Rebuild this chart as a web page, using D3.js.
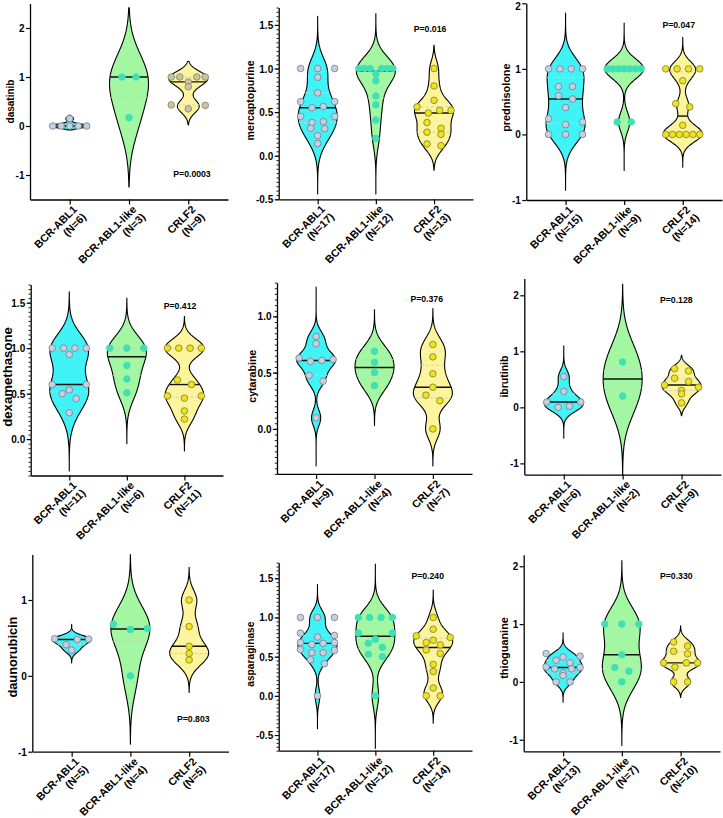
<!DOCTYPE html>
<html><head><meta charset="utf-8">
<script src="https://cdn.jsdelivr.net/npm/d3@7"></script>
<style>
body{margin:0;background:#fff;}
svg{display:block;font-family:"Liberation Sans",Arial,sans-serif;font-weight:bold;}
</style></head><body>
<svg id="chart" width="723" height="818"></svg>
<script>
// ---------------- data ----------------
const categories = ["BCR-ABL1", "BCR-ABL1-like", "CRLF2"];
const drugNames = ["dasatinib","mercaptopurine","prednisolone","dexamethasone","cytarabine","ibrutinib","daunorubicin","asparaginase","thioguanine"];
const countLabels = [
  ["(N=6)","(N=3)","(N=9)"],
  ["(N=17)","(N=12)","(N=13)"],
  ["(N=15)","(N=9)","(N=14)"],
  ["(N=11)","(N=6)","(N=11)"],
  ["N=9)","(N=4)","(N=7)"],
  ["(N=6)","(N=2)","(N=9)"],
  ["(N=5)","(N=4)","(N=5)"],
  ["(N=17)","(N=12)","(N=14)"],
  ["(N=13)","(N=7)","(N=10)"]
];
const pLabels = ["P=0.0003","P=0.016","P=0.047","P=0.412","P=0.376","P=0.128","P=0.803","P=0.240","P=0.330"];

const dasatinib = [
  [0.15,0,0,0,0,0],
  [1,1,0.17],
  [1,1,1,1,0.9,0.8,0.43,0.42,0.35]
];
const mercaptopurine = [
  [1,1,1,0.9,0.72,0.62,0.62,0.565,0.55,0.45,0.45,0.39,0.38,0.315,0.31,0.23,0.14],
  [1,1,1,1,1,1,0.94,0.86,0.685,0.585,0.41,0.20],
  [1,0.8,0.635,0.56,0.52,0.52,0.49,0.38,0.315,0.27,0.245,0.135,0.115]
];
const prednisolone = [
  [1,1,1,1,0.73,0.73,0.59,0.54,0.41,0.24,0.19,0.15,0,0,0],
  [1,1,1,1,1,1,1,0.19,0.19],
  [1,1,1,1,0.82,0.47,0.42,0.14,0,0,0,0,0,0]
];
const dexamethasone = [
  [1,1,1,1,0.93,0.6,0.6,0.54,0.5,0.445,0.29],
  [1,1,1,0.81,0.66,0.51],
  [1,1,1,1,0.65,0.6,0.475,0.475,0.45,0.31,0.22]
];
const cytarabine = [
  [0.82,0.757,0.63,0.617,0.608,0.60,0.475,0.424,0.098],
  [0.69,0.59,0.50,0.385],
  [0.75,0.64,0.49,0.37,0.30,0.25,0.0]
];
const ibrutinib = [
  [0.55,0.285,0.095,0.095,0.02,0.0],
  [0.81,0.20],
  [0.69,0.65,0.52,0.46,0.40,0.36,0.30,0.24,0.08]
];
const daunorubicin = [
  [0.49,0.485,0.48,0.41,0.34],
  [0.68,0.625,0.61,0.0],
  [1.0,0.65,0.39,0.295,0.21]
];
const asparaginase = [
  [1,1,1,0.80,0.77,0.75,0.68,0.68,0.67,0.655,0.59,0.58,0.55,0.55,0.46,0.41,0],
  [1,1,1,1,0.80,0.80,0.72,0.67,0.62,0.53,0.50,0.0],
  [1.0,0.85,0.765,0.745,0.71,0.68,0.65,0.585,0.54,0.40,0.31,0.10,0.0,0.0]
];
const thioguanine = [
  [0.49,0.445,0.43,0.375,0.33,0.26,0.25,0.225,0.225,0.155,0.11,0,0],
  [1,1,1,0.47,0.25,0.185,0.0],
  [0.69,0.62,0.53,0.485,0.33,0.33,0.33,0.255,0,0]
];
const panelValues = [dasatinib, mercaptopurine, prednisolone, dexamethasone, cytarabine, ibrutinib, daunorubicin, asparaginase, thioguanine];

// kernel bandwidth and violin extent (data units)
const bandwidths = [
  [0.04,0.5,0.13],[0.15,0.15,0.1],[0.2,0.15,0.12],
  [0.17,0.15,0.1],[0.07,0.1,0.09],[0.12,0.42,0.09],
  [0.05,0.28,0.13],[0.1,0.15,0.1],[0.09,0.3,0.09]
];
const violinExtents = [
  [[-0.08,0.22],[-1.25,2.42],[0.02,1.32]],
  [[-0.44,1.6],[-0.44,1.63],[-0.17,1.27]],
  [[-0.85,1.85],[-0.55,1.7],[-0.5,1.48]],
  [[-0.35,1.62],[-0.05,1.55],[-0.13,1.35]],
  [[-0.33,1.26],[0.03,1.06],[-0.33,1.07]],
  [[-0.55,1.1],[-1.2,2.2],[-0.15,0.93]],
  [[0.17,0.68],[-0.9,1.6],[-0.22,1.43]],
  [[-0.42,1.42],[-0.67,1.68],[-0.35,1.35]],
  [[-0.35,0.85],[-1.1,2.1],[-0.27,0.97]]
];

const yDomains = [[-1.5,2.5],[-0.5,1.7],[-1,2],[-0.4,1.7],[-0.4,1.3],[-1.2,2.3],[-1,1.6],[-0.7,1.7],[-1.2,2.2]];
const yTickValues = [
  [-1,0,1,2],[-0.5,0,0.5,1,1.5],[-1,0,1,2],
  [0,0.5,1,1.5],[0,0.5,1],[-1,0,1,2],
  [-1,0,1],[-0.5,0,0.5,1,1.5],[-1,0,1,2]
];
const yTickLabels = [
  ["-1","0","1","2"],["-0.5","0.0","0.5","1.0","1.5"],["-1","0","1","2"],
  ["0.0","0.5","1.0","1.5"],["0.0","0.5","1.0"],["-1","0","1","2"],
  ["-1","0","1"],["-0.5","0.0","0.5","1.0","1.5"],["-1","0","1","2"]
];
const minorStep = [0,0.05,0,0.05,0.05,0,0,0.05,0];

// ---------------- layout & style ----------------
const layout = [
  {axisX:30,   right:228,   yBot:199.5, yTop:3.5,   px:192,   py:177,   lfs:10,   loff:0},
  {axisX:278.7,right:473,   yBot:199.3, yTop:7.5,   px:430,   py:32,    lfs:10.6, loff:-3},
  {axisX:526.3,right:722,   yBot:200,   yTop:3.3,   px:678.7, py:28,    lfs:10.9, loff:-4},
  {axisX:30.7, right:223,   yBot:475.5, yTop:284.5, px:180,   py:308.5, lfs:13.2, loff:-3},
  {axisX:277,  right:472,   yBot:473.9, yTop:282.6, px:426.7, py:301.7, lfs:10.6, loff:-2},
  {axisX:524.3,right:721,   yBot:474.6, yTop:278.5, px:676.3, py:303.3, lfs:10.5, loff:0},
  {axisX:32.3, right:228.5, yBot:751.7, yTop:554.5, px:193.3, py:722,   lfs:12.8, loff:4},
  {axisX:278.7,right:472,   yBot:750.7, yTop:562.6, px:427.7, py:579.3, lfs:10.2, loff:-2.5},
  {axisX:523.7,right:720,   yBot:751.3, yTop:554.7, px:676.3, py:579.3, lfs:10.9, loff:-5}
];
const violinFill = ["#40f3f7","#a3f7a3","#fdf59e"];
const pointFill = ["#c7d0e1","#3fe0b4","#efe31c"];
const pointStroke = ["#7e8696","#3fe0b4","#8c8838"];
const dasatinibCrlf2Fill = "#cbc4a0", dasatinibCrlf2Stroke = "#8f8a72";
const halfWidth = 19.5, pointR = 3.3, rowThresholdPx = 6.3;
const xLabelSize = 10.8;

const svg = d3.select("#chart");

function density(values, bw, v){
  return d3.sum(values, x => Math.exp(-0.5*((v-x)/bw)**2));
}

function arrangePoints(values, y){
  const sorted = values.slice().sort((a,b)=>b-a);
  const rows = []; let cur = null;
  for (const v of sorted){
    if (cur && (y(v) - y(cur[0])) <= rowThresholdPx) cur.push(v);
    else { cur = [v]; rows.push(cur); }
  }
  const out = [];
  rows.forEach(r => {
    const k = r.length;
    let offs;
    if (k === 1) offs = [0];
    else if (k === 2) offs = [-7, 7];
    else offs = d3.range(k).map(i => -17 + 34*i/(k-1));
    offs.sort((a,b) => Math.abs(b)-Math.abs(a) || a-b);
    r.forEach((v,i) => out.push({v, dx: offs[i]}));
  });
  return out;
}

panelValues.forEach((groupsVals, pi) => {
  const L = layout[pi];
  const g = svg.append("g");
  const y = d3.scaleLinear().domain(yDomains[pi]).range([L.yBot, L.yTop]);
  const x = d3.scalePoint().domain(categories).range([L.axisX, L.right]).padding(0.67);

  // violins
  groupsVals.forEach((vals, gi) => {
    const cx = x(categories[gi]);
    const bw = bandwidths[pi][gi];
    const [lo, hi] = violinExtents[pi][gi];
    const n = 160;
    const grid = d3.range(n+1).map(i => lo + (hi-lo)*i/n);
    const dens = grid.map(v => density(vals, bw, v));
    const maxD = d3.max(dens);
    const pts = grid.map((v,i) => ({v, w: (i===0||i===n) ? 0 : dens[i]/maxD*halfWidth}));
    const area = d3.area()
      .y(d => y(d.v))
      .x0(d => cx - d.w)
      .x1(d => cx + d.w)
      .curve(d3.curveLinear);
    g.append("path").attr("d", area(pts))
      .attr("fill", violinFill[gi]).attr("stroke", "#000").attr("stroke-width", 1.1)
      .attr("stroke-linejoin","round");

    const asc = vals.slice().sort((a,b)=>a-b);
    const wAt = v => density(vals, bw, v)/maxD*halfWidth;
    [d3.quantile(asc,0.25), d3.quantile(asc,0.75)].forEach(q => {
      const w = wAt(q);
      g.append("line").attr("x1", cx-w).attr("x2", cx+w).attr("y1", y(q)).attr("y2", y(q))
        .attr("stroke", "#cfcfcf").attr("stroke-width", 1).attr("stroke-dasharray","3,2");
    });
    const med = d3.median(asc);
    const wm = wAt(med);
    g.append("line").attr("x1", cx-wm).attr("x2", cx+wm).attr("y1", y(med)).attr("y2", y(med))
      .attr("stroke", "#111").attr("stroke-width", 1.4);

    // points
    const arranged = arrangePoints(vals, y);
    const fill = (pi===0 && gi===2) ? dasatinibCrlf2Fill : pointFill[gi];
    const stroke = (pi===0 && gi===2) ? dasatinibCrlf2Stroke : pointStroke[gi];
    g.selectAll(null).data(arranged).enter().append("circle")
      .attr("cx", d => cx + d.dx).attr("cy", d => y(d.v)).attr("r", pointR)
      .attr("fill", fill).attr("stroke", stroke).attr("stroke-width", 0.9);
  });

  // y axis
  if (minorStep[pi] > 0){
    const [d0,d1] = yDomains[pi];
    const minors = d3.range(Math.ceil(d0/minorStep[pi]-1e-6), Math.floor(d1/minorStep[pi]+1e-6)+1).map(k => +(k*minorStep[pi]).toFixed(3));
    const ma = g.append("g").attr("transform", `translate(${L.axisX},0)`)
      .call(d3.axisLeft(y).tickValues(minors).tickSize(2.2).tickSizeOuter(0).tickFormat(""));
    ma.select(".domain").remove();
    ma.selectAll("line").attr("stroke","#000").attr("stroke-width",0.9);
  }
  const labs = yTickLabels[pi];
  const ya = g.append("g").attr("transform", `translate(${L.axisX},0)`)
    .call(d3.axisLeft(y).tickValues(yTickValues[pi]).tickSize(4).tickSizeOuter(0)
      .tickFormat((d,i) => labs[i]));
  ya.select(".domain").attr("stroke","#000").attr("stroke-width",1.3);
  ya.selectAll(".tick line").attr("stroke","#000").attr("stroke-width",1.2);
  ya.selectAll(".tick text").attr("font-size", 10).attr("font-weight","bold")
    .attr("font-family",'"Liberation Sans",Arial,sans-serif').attr("fill","#000").attr("x",-5.5)
    .attr("dy", d => (y(d) < 5 ? (5.5 - y(d)) + 3.5 : 3.5) + "px");
  let maxW = 0;
  ya.selectAll(".tick text").each(function(){ maxW = Math.max(maxW, this.getComputedTextLength()); });

  // y label
  const lx = Math.max(L.axisX - 4 - 2 - maxW - 5, L.lfs*0.5 + 0.5);
  const ly = (L.yTop + L.yBot)/2 + L.loff;
  g.append("text").attr("transform", `translate(${lx},${ly}) rotate(-90)`)
    .attr("text-anchor","middle").attr("dy","0.35em").attr("font-size",L.lfs)
    .text(drugNames[pi]);

  // x axis
  const xa = g.append("g").attr("transform", `translate(0,${L.yBot})`)
    .call(d3.axisBottom(x).tickSize(5).tickSizeOuter(0).tickFormat(""));
  xa.select(".domain").attr("stroke","#000").attr("stroke-width",1.3);
  xa.selectAll(".tick line").attr("stroke","#000").attr("stroke-width",1.2);

  categories.forEach((c, gi) => {
    const t = g.append("text")
      .attr("transform", `translate(${x(c)+8},${L.yBot+10.5}) rotate(-45)`)
      .attr("text-anchor","end").attr("font-size",xLabelSize);
    t.append("tspan").attr("x",0).attr("y",0).text(c);
    t.append("tspan").attr("x",1).attr("dy","1.1em").text(countLabels[pi][gi]);
  });

  // p value
  g.append("text").attr("x", L.px).attr("y", L.py).attr("text-anchor","middle")
    .attr("font-size", 8.7).text(pLabels[pi]);
});
</script>
</body></html>
